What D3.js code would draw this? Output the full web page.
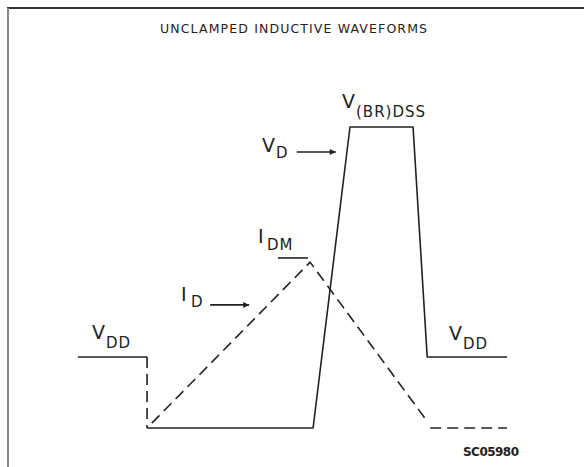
<!DOCTYPE html>
<html>
<head>
<meta charset="utf-8">
<script src="https://cdn.jsdelivr.net/npm/d3@7"></script>
<style>
  body { margin: 0; background: #fff; }
  text { font-family: "DejaVu Sans", sans-serif; fill: #222; }
</style>
</head>
<body>
<div id="chart"></div>
<script>
var svgWidth = 584;
var svgHeight = 467;

// waveform levels (0 = ground, 100 = V(BR)DSS), time in arbitrary units 0..100
var vddLevel = 23.6;
var vbrLevel = 100;
var idmLevel = 55.1;

// V_D trace, split into solid and dashed pieces
var vdLeft = [[0, vddLevel], [16.1, vddLevel]];
var vdDrop = [[16.1, vddLevel], [16.1, 0]];
var vdMain = [[16.1, 0], [54.8, 0], [63.4, vbrLevel], [78.1, vbrLevel], [81.4, vddLevel], [100, vddLevel]];

// I_D trace (dashed)
var idRise = [[17.2, 1.6], [54.1, idmLevel], [81.2, 2.6]];
var idTail = [[82.1, 0], [100, 0]];

// I_DM marker and label arrows
var idmMark = [[46.6, 56.5], [53.6, 56.5]];
var vdArrow = [[51.0, 91.7], [60.1, 91.7]];
var idArrow = [[30.8, 40.9], [39.9, 40.9]];

var svg = d3.select("#chart")
  .append("svg")
  .attr("width", svgWidth)
  .attr("height", svgHeight);

var x = d3.scaleLinear()
  .domain([0, 100])
  .range([78, 507]);

var y = d3.scaleLinear()
  .domain([0, 100])
  .range([428, 127]);

var line = d3.line()
  .x(d => x(d[0]))
  .y(d => y(d[1]));

// frame
svg.append("line")
  .attr("x1", 7).attr("y1", 8).attr("x2", svgWidth).attr("y2", 8)
  .attr("stroke", "#333").attr("stroke-width", 2);
svg.append("line")
  .attr("x1", 8).attr("y1", 8).attr("x2", 8).attr("y2", svgHeight)
  .attr("stroke", "#888").attr("stroke-width", 2);

svg.append("defs").append("marker")
  .attr("id", "arrow")
  .attr("viewBox", "0 0 10 10")
  .attr("refX", 10).attr("refY", 5)
  .attr("markerWidth", 9).attr("markerHeight", 6)
  .attr("markerUnits", "userSpaceOnUse")
  .attr("orient", "auto")
  .append("path")
  .attr("d", "M0,0 L10,5 L0,10 Z")
  .attr("fill", "#222");

function trace(pts, dashed) {
  svg.append("path")
    .attr("d", line(pts))
    .attr("fill", "none")
    .attr("stroke", "#222")
    .attr("stroke-width", 1.6)
    .attr("stroke-linejoin", "round")
    .attr("stroke-dasharray", dashed ? "11,6" : null);
}

trace(vdLeft, false);
trace(vdDrop, true);
trace(vdMain, false);
trace(idRise, true);
trace(idTail, true);
trace(idmMark, false);

[vdArrow, idArrow].forEach(function (a) {
  svg.append("path")
    .attr("d", line(a))
    .attr("stroke", "#222")
    .attr("stroke-width", 1.6)
    .attr("marker-end", "url(#arrow)");
});

// title and tag
svg.append("text")
  .attr("x", 160).attr("y", 33)
  .attr("font-size", 12.5)
  .attr("textLength", 267).attr("lengthAdjust", "spacing")
  .text("UNCLAMPED INDUCTIVE WAVEFORMS");

svg.append("text")
  .attr("x", 463).attr("y", 456)
  .attr("font-size", 12).attr("font-weight", "bold")
  .attr("textLength", 56).attr("lengthAdjust", "spacing")
  .text("SC05980");

// labels: main letter + subscript
function label(x0, yBase, main, sub, subDy) {
  var t = svg.append("text")
    .attr("x", x0).attr("y", yBase)
    .attr("font-size", 19);
  t.append("tspan").text(main);
  t.append("tspan")
    .attr("font-size", 15)
    .attr("letter-spacing", 1)
    .attr("dy", subDy)
    .attr("dx", 1)
    .text(sub);
}

label(92, 339, "V", "DD", 9);
label(449, 340, "V", "DD", 9);
label(262, 152, "V", "D", 6);
label(342, 108, "V", "(BR)DSS", 9);

svg.append("text").attr("x", 258).attr("y", 243).attr("font-size", 19).text("I");
svg.append("text").attr("x", 267).attr("y", 250).attr("font-size", 15).attr("letter-spacing", 1).text("DM");
svg.append("text").attr("x", 181).attr("y", 301).attr("font-size", 19).text("I");
svg.append("text").attr("x", 191).attr("y", 307).attr("font-size", 15).text("D");
</script>
</body>
</html>
